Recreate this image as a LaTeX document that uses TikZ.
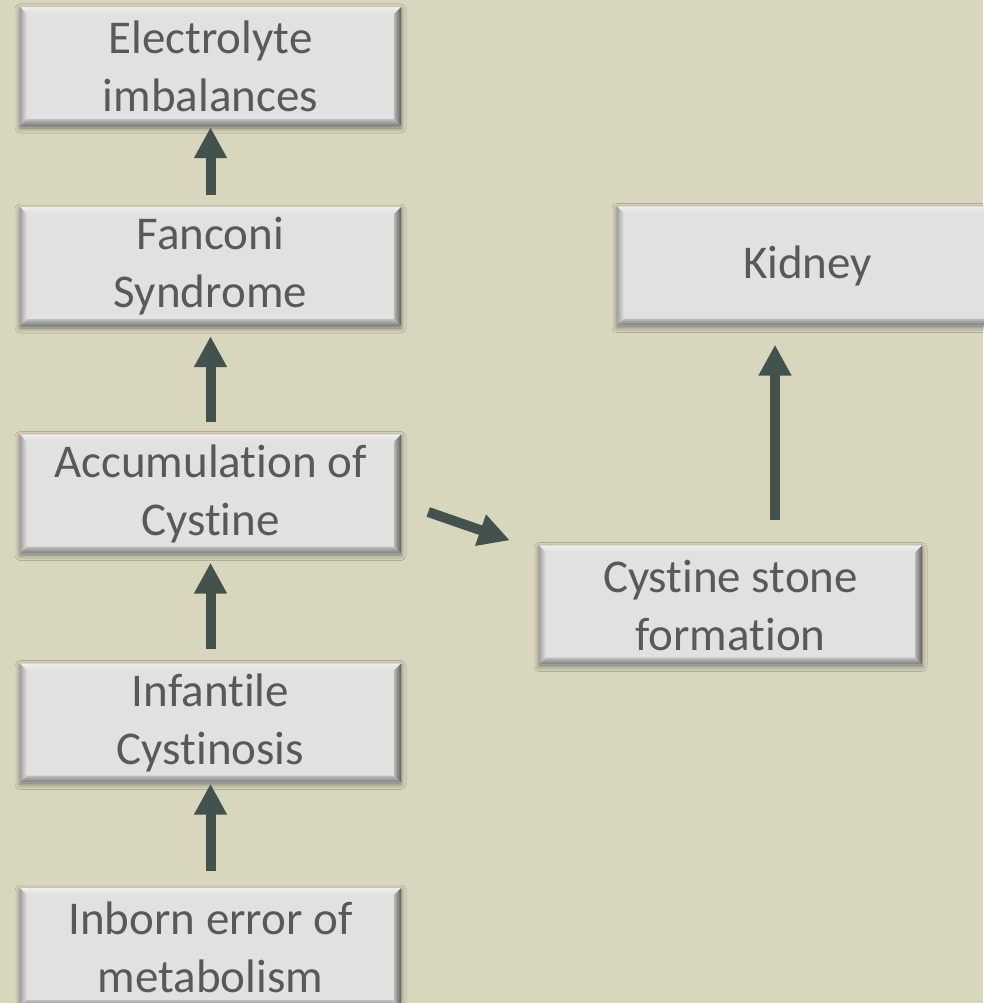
\documentclass[tikz,border=0pt]{standalone}
\usepackage{fontspec}
\setmainfont{Carlito}[Ligatures=NoCommon]
\usetikzlibrary{arrows.meta,calc,shadows.blur}

\definecolor{bgcol}{RGB}{216,214,188}
\definecolor{boxfill}{RGB}{225,225,224}
\definecolor{boxtext}{RGB}{89,89,89}
\definecolor{arrowcol}{RGB}{68,82,78}
\definecolor{bvtop}{RGB}{238,238,236}
\definecolor{bvleftout}{RGB}{160,160,160}
\definecolor{bvrightin}{RGB}{180,180,180}
\definecolor{bvrightout}{RGB}{92,92,92}
\definecolor{bvbotin}{RGB}{190,190,190}
\definecolor{bvbotout}{RGB}{118,118,118}

\tikzset{
  x=1pt, y=-1pt,
  flowbox/.style={rectangle, fill=boxfill, inner sep=0pt,
    minimum width=381pt, minimum height=119pt, align=center,
    text=boxtext, font=\fontsize{47}{58}\selectfont,
    blur shadow={shadow xshift=0pt, shadow yshift=-2pt,
      shadow blur radius=5pt, shadow opacity=45}},
  flowarrow/.style={draw=arrowcol, line width=10pt,
    -{Triangle[width=31pt,length=31pt]}, fill=arrowcol}
}

% bevelled edges of a box
\newcommand\bevelbox[1]{%
  \shade[top color=bvtop, bottom color=boxfill]
    (#1.north west) -- (#1.north east) -- ([shift={(-7,7)}]#1.north east)
    -- ([shift={(7,7)}]#1.north west) -- cycle;
  \shade[left color=bvleftout, right color=boxfill]
    (#1.north west) -- ([shift={(7,7)}]#1.north west)
    -- ([shift={(7,-7)}]#1.south west) -- (#1.south west) -- cycle;
  \shade[left color=bvrightin, right color=bvrightout]
    (#1.north east) -- ([shift={(-7,7)}]#1.north east)
    -- ([shift={(-7,-7)}]#1.south east) -- (#1.south east) -- cycle;
  \shade[top color=bvbotin, bottom color=bvbotout]
    (#1.south west) -- ([shift={(7,-7)}]#1.south west)
    -- ([shift={(-7,-7)}]#1.south east) -- (#1.south east) -- cycle;
}

\begin{document}
\begin{tikzpicture}
  \fill[bgcol] (0,0) rectangle (983,1003);
  \useasboundingbox (0,0) rectangle (983,1003);

  % left column
  \node[flowbox] (electro) at (210.5,66.5) {Electrolyte\\imbalances};
  \node[flowbox] (fanconi) at (210.5,266.5) {Fanconi\\Syndrome};
  \node[flowbox] (accum) at (210.5,494) {Accumulation of\\Cystine};
  \node[flowbox] (infant) at (210.5,723) {Infantile\\Cystinosis};
  \node[flowbox] (inborn) at (210.5,947.5) {Inborn error of\\metabolism};

  % right column
  \node[flowbox] (kidney) at (807.5,266) {Kidney};
  \node[flowbox, minimum width=383pt] (stone) at (730.5,605) {Cystine stone\\formation};

  \foreach \n in {electro,fanconi,accum,infant,inborn,kidney,stone}
    {\bevelbox{\n}}

  % connectors
  \draw[flowarrow, shorten <=12pt, shorten >=1pt] (fanconi.north) -- (electro.south);
  \draw[flowarrow, shorten <=12pt, shorten >=10pt] (accum.north) -- (fanconi.south);
  \draw[flowarrow, shorten <=14pt, shorten >=9pt] (infant.north) -- (accum.south);
  \draw[flowarrow, shorten <=17pt, shorten >=1pt] (inborn.north) -- (infant.south);

  \coordinate (kx) at (775,0);
  \draw[flowarrow, shorten <=25pt, shorten >=19pt] (stone.north -| kx) -- (kidney.south -| kx);

  \draw[flowarrow] ([shift={(27,18)}]accum.east) -- ([shift={(-29,-5)}]stone.north west);
\end{tikzpicture}
\end{document}
